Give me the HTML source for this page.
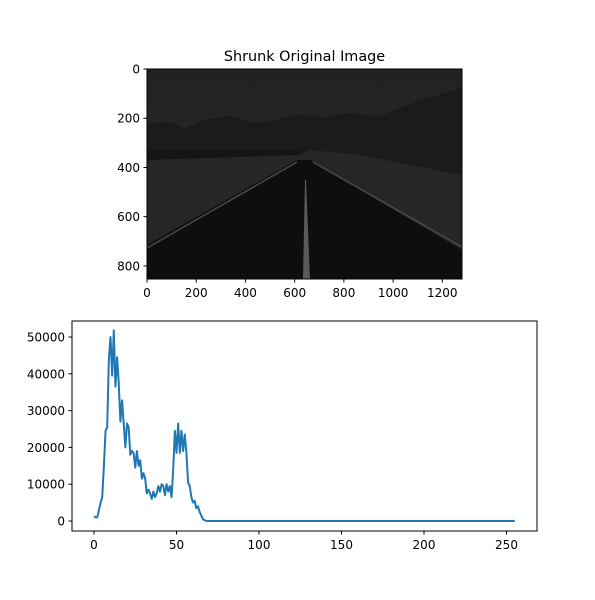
<!DOCTYPE html>
<html><head><meta charset="utf-8"><style>
body{margin:0;background:#fff}
svg text{font-family:"DejaVu Sans","Liberation Sans",sans-serif;font-size:12px;fill:#000}
</style></head><body>
<svg width="595" height="595" viewBox="0 0 595 595">
<rect width="595" height="595" fill="#fff"/>
<text x="304.5" y="61" text-anchor="middle" style="font-size:14.4px">Shrunk Original Image</text>
<g>
<defs>
<linearGradient id="sky" x1="0" y1="0" x2="0" y2="1"><stop offset="0" stop-color="#222"/><stop offset="1" stop-color="#2a2a2a"/></linearGradient>
<clipPath id="imgclip"><rect x="147" y="69" width="315" height="210"/></clipPath>
</defs>
<g clip-path="url(#imgclip)">
<rect x="147" y="69" width="315" height="210" fill="url(#sky)"/>
<polygon points="147,123 170,122 185,128 205,120 230,116 255,123 275,120 300,114 325,118 345,113 380,116 420,100 462,88 462,279 147,279" fill="#1b1b1b"/>
<polygon points="147,150 300,150 300,160 147,165" fill="#151515"/>
<polygon points="147,160 300,155 310,150 360,155 462,175 462,279 147,279" fill="#262626"/>
<polygon points="147,245 297,160 310,160 462,250 462,279 147,279" fill="#0e0e0e"/>
<polyline points="147,248 297,162" stroke="#4a4a4a" stroke-width="1.5" fill="none"/>
<polyline points="462,247 313,162" stroke="#4a4a4a" stroke-width="1.5" fill="none"/>
<polygon points="303,279 310,279 306,180 305,180" fill="#5a5a5a"/>
</g>
<rect x="147" y="69" width="315" height="210" fill="none" stroke="#000" stroke-width="1"/>
</g>
<g id="imgticks"></g>
<g id="hist"></g>
</svg>
<script>
const imgXTicks=[0,200,400,600,800,1000,1200];
const imgYTicks=[0,200,400,600,800];
const histXTicks=[0,50,100,150,200,250];
const histYTicks=[0,10000,20000,30000,40000,50000];
const histHead=[1300,1000,1000,3000,5000,6500,15000,24500,25500,44000,50000,39500,51800,36500,44500,37500,27000,32800,26500,20000,26500,25500,18000,19000,18500,14500,19000,15000,16500,11500,13000,11500,7500,8500,7500,6000,8000,6500,7500,9500,8000,10000,9500,7000,10000,8000,9500,6500,14000,24500,18500,26500,18500,24500,19000,23500,18500,10500,9500,6500,5000,5500,3500,4000,2500,1500,500,200,50];
const histCounts=histHead.concat(new Array(256-histHead.length).fill(0));
const NS="http://www.w3.org/2000/svg";
function mk(p,t,a){const e=document.createElementNS(NS,t);for(const k in a)e.setAttribute(k,a[k]);p.appendChild(e);return e;}
const ig=document.getElementById('imgticks');
const ix=v=>147+v*315/1280, iy=v=>69+v*210/853;
imgXTicks.forEach(v=>{const l=mk(ig,'line',{x1:ix(v),x2:ix(v),y1:279,y2:282.5,stroke:'#000'});


const t=mk(ig,'text',{x:ix(v),y:297,'text-anchor':'middle'});t.textContent=v;

});
imgYTicks.forEach(v=>{const l=mk(ig,'line',{x1:143.5,x2:147,y1:iy(v),y2:iy(v),stroke:'#000'});


const t=mk(ig,'text',{x:140,y:iy(v)+4.5,'text-anchor':'end'});t.textContent=v;

});
const hg=document.getElementById('hist');
const hx=v=>94+v*1.65, hy=v=>521-v*184/50000;
histXTicks.forEach(v=>{const l=mk(hg,'line',{x1:hx(v),x2:hx(v),y1:531,y2:534.5,stroke:'#000'});


const t=mk(hg,'text',{x:hx(v),y:549,'text-anchor':'middle'});t.textContent=v;

});
histYTicks.forEach(v=>{const l=mk(hg,'line',{x1:68.5,x2:72,y1:hy(v),y2:hy(v),stroke:'#000'});


const t=mk(hg,'text',{x:65,y:hy(v)+4.5,'text-anchor':'end'});t.textContent=v;

});
const pl=mk(hg,'polyline',{points:histCounts.map((c,i)=>hx(i)+','+hy(c)).join(' '),fill:'none',stroke:'#1f77b4','stroke-width':2,'stroke-linejoin':'round'});


const fr=mk(hg,'rect',{x:72,y:321,width:465,height:210,fill:'none',stroke:'#000'});


</script>
</body></html>
